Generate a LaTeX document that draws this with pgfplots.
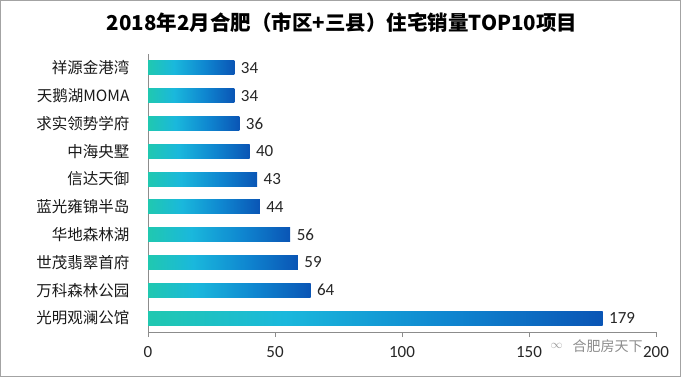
\documentclass[border=0pt]{standalone}
\usepackage{pgfplots}
\pgfplotsset{compat=1.18}
\usepackage{fontspec}
\setmainfont{Noto Sans CJK SC}
\newfontfamily\numfont{Carlito}
\definecolor{bteal}{HTML}{20C8B0}
\definecolor{bcyan}{HTML}{1AB8DC}
\definecolor{bmid}{HTML}{0F86D0}
\definecolor{bblue}{HTML}{0A55B5}
\definecolor{axgray}{HTML}{8C8C8C}
\pgfdeclarehorizontalshading{barshade}{100bp}{
  color(0bp)=(bteal); color(25bp)=(bteal); color(40bp)=(bcyan); color(58bp)=(bmid); color(75bp)=(bblue); color(100bp)=(bblue)}
\begin{document}
\begin{tikzpicture}[x=1bp,y=1bp]
\path[use as bounding box] (0,0) rectangle (681,377);
\draw[axgray!80, line width=1.2bp] (0.6,0.6) rectangle (680.4,376.4);
\node[font=\fontsize{20.5bp}{22bp}\selectfont\bfseries] at (342,354) {2018年2月合肥（市区+三县）住宅销量TOP10项目};
\begin{axis}[
  at={(148bp,45bp)}, anchor=south west,
  scale only axis, width=508bp, height=278bp,
  xmin=0, xmax=200, ymin=-0.5, ymax=9.5,
  axis lines*=left,
  axis line style={axgray, line width=0.8bp},
  /pgf/number format/assume math mode=true,
  xtick={0,50,100,150,200},
  xticklabel style={font=\numfont\fontsize{17bp}{19bp}\selectfont, color=black!85, yshift=-6bp},
  x tick style={axgray, line width=0.8bp},
  tick align=outside,
  major tick length=5bp,
  ytick={0,...,9},
  yticklabels={光明观澜公馆,万科森林公园,世茂翡翠首府,华地森林湖,蓝光雍锦半岛,信达天御,中海央墅,求实领势学府,天鹅湖MOMA,祥源金港湾},
  y tick style={draw=none},
  minor ytick={-0.5,0.5,...,9.5},
  minor y tick style={axgray, line width=0.8bp},
  minor tick length=5bp,
  yticklabel style={font=\fontsize{15.5bp}{17bp}\selectfont, color=black!90, xshift=-10bp},
  xbar, bar width=14bp, bar shift=0pt,
  nodes near coords,
  nodes near coords style={font=\numfont\fontsize{17bp}{19bp}\selectfont, color=black!85, xshift=3bp},
  every axis plot/.append style={draw=none, shading=barshade},
  clip=false,
]
\addplot coordinates {(179,0)};
\addplot coordinates {(64,1)};
\addplot coordinates {(59,2)};
\addplot coordinates {(56,3)};
\addplot coordinates {(44,4)};
\addplot coordinates {(43,5)};
\addplot coordinates {(40,6)};
\addplot coordinates {(36,7)};
\addplot coordinates {(34,8)};
\addplot coordinates {(34,9)};
\end{axis}
\node[anchor=west, font=\fontsize{14bp}{16bp}\selectfont, color=black!45] at (569,31) {合肥房天下};
\node[anchor=east, font=\fontsize{12bp}{14bp}\selectfont, color=black!40] at (566,31) {$\infty$};
\end{tikzpicture}
\end{document}
